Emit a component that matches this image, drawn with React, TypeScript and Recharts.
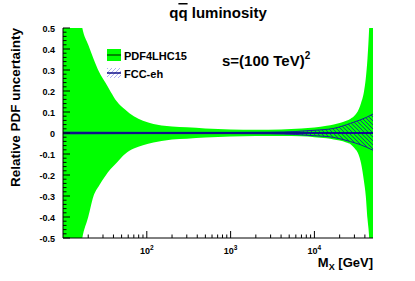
import React from 'react';
import { ComposedChart, Area, Line, XAxis, YAxis } from 'recharts';

// PDF4LHC15 band (relative uncertainty)
const pdfMass = [10, 12, 14, 17, 20, 23, 27, 32, 37, 44, 55, 70, 90, 120, 150, 200, 300, 500, 1000, 2000, 4000, 7000, 10000, 14000, 17000, 20000, 24000, 27000, 30000, 34000, 36000, 39000, 41000, 43000, 45000, 47000, 50000];
const pdfHigh = [1.4, 1.0, 0.75, 0.5, 0.42, 0.356, 0.29, 0.24, 0.197, 0.15, 0.112, 0.08, 0.058, 0.043, 0.036, 0.031, 0.027, 0.022, 0.017, 0.015, 0.017, 0.021, 0.026, 0.035, 0.041, 0.048, 0.058, 0.068, 0.082, 0.115, 0.143, 0.197, 0.26, 0.356, 0.5, 0.7, 1.0];
const pdfLow = [-1.4, -1.0, -0.75, -0.5, -0.4, -0.303, -0.25, -0.205, -0.172, -0.14, -0.1, -0.074, -0.058, -0.045, -0.038, -0.031, -0.027, -0.022, -0.017, -0.014, -0.014, -0.016, -0.02, -0.025, -0.031, -0.036, -0.045, -0.053, -0.072, -0.108, -0.144, -0.23, -0.3, -0.41, -0.5, -0.7, -1.0];

// FCC-eh band
const fccMass = [10, 100, 1000, 3000, 6000, 10000, 17000, 27000, 35000, 42000, 50000];
const fccHigh = [0.004, 0.003, 0.003, 0.004, 0.007, 0.013, 0.022, 0.046, 0.062, 0.075, 0.09];
const fccLow = [-0.004, -0.003, -0.003, -0.004, -0.007, -0.013, -0.021, -0.041, -0.055, -0.068, -0.082];
const fccMid = [0, 0, 0, 0, 0, 0, 0, 0, 0, 0, 0];

const xMajor = [100, 1000, 10000];
const xMinor = [20, 30, 40, 50, 60, 70, 80, 90, 200, 300, 400, 500, 600, 700, 800, 900, 2000, 3000, 4000, 5000, 6000, 7000, 8000, 9000, 20000, 30000, 40000];
const xTicks = [...xMinor, ...xMajor].sort((a, b) => a - b);
const xExp: Record<number, string> = { 100: '2', 1000: '3', 10000: '4' };

const yMajor = [-0.5, -0.4, -0.3, -0.2, -0.1, 0, 0.1, 0.2, 0.3, 0.4, 0.5];
const yTicks: number[] = [];
for (let i = -25; i <= 25; i++) yTicks.push(Math.round(i * 2) / 100);

const pdfData = pdfMass.map((m, i) => ({ m, band: [pdfLow[i], pdfHigh[i]], mid: 0 }));
const fccData = fccMass.map((m, i) => ({ m, band: [fccLow[i], fccHigh[i]], mid: fccMid[i] }));

const FONT = '"Liberation Sans", Arial, Helvetica, sans-serif';
const isMajorY = (v: number) => yMajor.some((t) => Math.abs(t - v) < 1e-6);

const BottomTick = (p: any) => {
  const v = p.payload.value;
  const major = xMajor.includes(v);
  return (
    <g>
      <line x1={p.x} y1={p.y} x2={p.x} y2={p.y - (major ? 7 : 3.5)} stroke="#000" />
      {major && (
        <text x={p.x} y={p.y + 16} textAnchor="middle" fontFamily={FONT} fontWeight="bold" fontSize={9} fill="#000">
          10<tspan dy={-4} fontSize={6.5}>{xExp[v]}</tspan>
        </text>
      )}
    </g>
  );
};

const TopTick = (p: any) => {
  const major = xMajor.includes(p.payload.value);
  return <line x1={p.x} y1={p.y} x2={p.x} y2={p.y + (major ? 7 : 3.5)} stroke="#000" />;
};

const LeftTick = (p: any) => {
  const v = p.payload.value;
  const major = isMajorY(v);
  return (
    <g>
      <line x1={p.x} y1={p.y} x2={p.x + (major ? 7 : 3.5)} y2={p.y} stroke="#000" />
      {major && (
        <text x={p.x - 8} y={p.y + 3.5} textAnchor="end" fontFamily={FONT} fontWeight="bold" fontSize={9} fill="#000">
          {Math.abs(v) < 1e-6 ? '0' : v.toFixed(1)}
        </text>
      )}
    </g>
  );
};

const RightTick = (p: any) => {
  const major = isMajorY(p.payload.value);
  return <line x1={p.x} y1={p.y} x2={p.x - (major ? 7 : 3.5)} y2={p.y} stroke="#000" />;
};

export default function App() {
  return (
    <div style={{ position: 'absolute', left: 0, top: 0, width: 415, height: 281, background: '#fff' }}>
      <ComposedChart width={415} height={281} margin={{ top: 28, right: 42, bottom: 0, left: 0 }}>
        <defs>
          <pattern id="hatch" patternUnits="userSpaceOnUse" width="4" height="4">
            <path d="M-1,3 L1,5 M0,0 L4,4 M3,-1 L5,1" stroke="#1a1a9a" strokeWidth="0.8" />
          </pattern>
        </defs>
        <XAxis dataKey="m" type="number" scale="log" domain={[10, 50000]} allowDataOverflow ticks={xTicks}
          height={43} tickSize={0} tickMargin={0} tickLine={false} tick={BottomTick} stroke="#000" interval={0} />
        <XAxis xAxisId="top" orientation="top" dataKey="m" type="number" scale="log" domain={[10, 50000]} allowDataOverflow
          ticks={xTicks} height={0} tickSize={0} tickMargin={0} tickLine={false} tick={TopTick} stroke="#000" interval={0} />
        <YAxis type="number" domain={[-0.5, 0.5]} allowDataOverflow ticks={yTicks} width={63}
          tickSize={0} tickMargin={0} tickLine={false} tick={LeftTick} stroke="#000" interval={0} />
        <YAxis yAxisId="right" orientation="right" type="number" domain={[-0.5, 0.5]} allowDataOverflow ticks={yTicks} width={0}
          tickSize={0} tickMargin={0} tickLine={false} tick={RightTick} stroke="#000" interval={0} />
        <Area data={pdfData} dataKey="band" type="monotone" fill="#00ff00" fillOpacity={1} stroke="none" isAnimationActive={false} />
        <Line data={pdfData} dataKey="mid" stroke="#008800" strokeWidth={2} dot={false} isAnimationActive={false} />
        <Area data={fccData} dataKey="band" type="monotone" fill="url(#hatch)" fillOpacity={1} stroke="#1a1a9a" strokeWidth={1} isAnimationActive={false} />
        <Line data={fccData} dataKey="mid" stroke="#10108a" strokeWidth={2} dot={false} isAnimationActive={false} />
      </ComposedChart>
      <svg width={415} height={281} style={{ position: 'absolute', left: 0, top: 0, pointerEvents: 'none' }}>
        <defs>
          <pattern id="hatchLeg" patternUnits="userSpaceOnUse" width="4" height="4">
            <path d="M-1,1 L1,-1 M0,4 L4,0 M3,5 L5,3" stroke="#9a9aee" strokeWidth="0.8" />
          </pattern>
        </defs>
        <text x={218} y={18} textAnchor="middle" fontFamily={FONT} fontWeight="bold" fontSize={15}>
          q<tspan textDecoration="overline">q</tspan> luminosity
        </text>
        <text transform="translate(20,28) rotate(-90)" textAnchor="end" fontFamily={FONT} fontWeight="bold" fontSize={13.5}>
          Relative PDF uncertainty
        </text>
        <text x={373} y={267} textAnchor="end" fontFamily={FONT} fontWeight="bold" fontSize={13}>
          M<tspan dy={3} fontSize={9}>X</tspan><tspan dy={-3}> [GeV]</tspan>
        </text>
        <rect x={107} y={49} width={14} height={12} fill="#00ff00" />
        <line x1={107} y1={55} x2={121} y2={55} stroke="#008800" strokeWidth={2} />
        <text x={124} y={60} fontFamily={FONT} fontWeight="bold" fontSize={11}>PDF4LHC15</text>
        <rect x={107} y={68} width={14} height={10} fill="url(#hatchLeg)" />
        <line x1={107} y1={73} x2={121} y2={73} stroke="#10108a" strokeWidth={1.5} />
        <text x={124} y={78} fontFamily={FONT} fontWeight="bold" fontSize={11}>FCC-eh</text>
        <text x={222} y={66} fontFamily={FONT} fontWeight="bold" fontSize={15}>
          s=(100 TeV)<tspan dy={-7} fontSize={10}>2</tspan>
        </text>
      </svg>
    </div>
  );
}
